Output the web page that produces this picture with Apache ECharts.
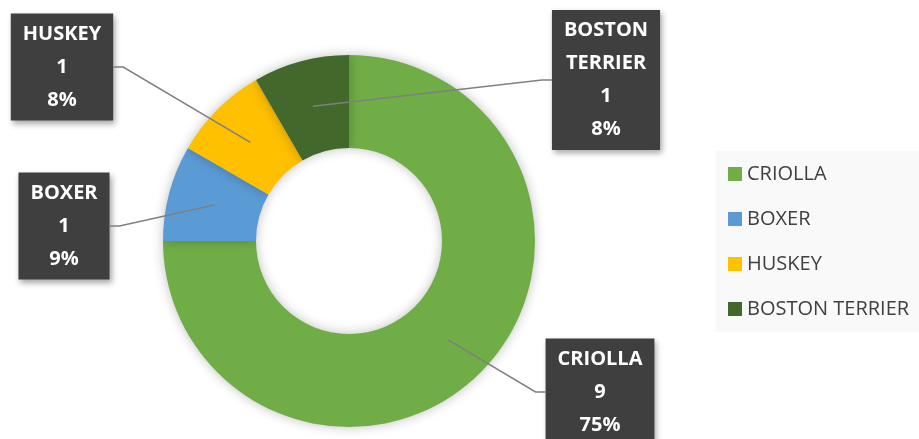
<!DOCTYPE html>
<html>
<head>
<meta charset="utf-8">
<script src="https://cdn.jsdelivr.net/npm/echarts@6/dist/echarts.min.js"></script>
<style>
  html, body { margin: 0; padding: 0; background: #fff; }
  #chart { width: 919px; height: 439px; }
</style>
</head>
<body>
<div id="chart"></div>
<script>
// datos del grafico
const breeds = ['CRIOLLA', 'BOXER', 'HUSKEY', 'BOSTON TERRIER'];
const counts = [9, 1, 1, 1];
const colors = ['#70AD47', '#5B9BD5', '#FFC000', '#43682B'];

// posicion de cada caja de etiqueta (centro)
const labelPos = [
  [600, 392],
  [64, 226],
  [62, 67],
  [606, 80]
];

const center = [349, 241];
const labelFont = 'bold 20px "Open Sans"';
const labelPadX = 12;

// ancho de la caja segun la linea mas larga
const measure = document.createElement('canvas').getContext('2d');
function boxWidth(name) {
  measure.font = labelFont;
  let w = 0;
  name.split(' ').forEach(function (s) {
    w = Math.max(w, measure.measureText(s).width);
  });
  return w + labelPadX * 2;
}

const chart = echarts.init(document.getElementById('chart'));

const option = {
  animation: false,
  color: colors,
  legend: {
    orient: 'vertical',
    left: 716,
    top: 151,
    width: 203,
    padding: [13, 12, 13, 12],
    backgroundColor: '#f9f9f9',
    itemGap: 25,
    itemWidth: 14,
    itemHeight: 14,
    icon: 'rect',
    data: breeds,
    textStyle: {
      fontFamily: 'Open Sans',
      fontSize: 20,
      lineHeight: 20,
      color: '#404040'
    }
  },
  series: [
    {
      type: 'pie',
      center: center,
      radius: [93, 186],
      startAngle: 90,
      clockwise: true,
      percentPrecision: 0,
      itemStyle: {
        shadowBlur: 12,
        shadowColor: 'rgba(0,0,0,0.25)'
      },
      label: {
        show: true,
        position: 'outside',
        formatter: function (p) {
          return p.name.replace(' ', '\n') + '\n' + p.value + '\n' + p.percent + '%';
        },
        color: '#fff',
        fontFamily: 'Open Sans',
        fontWeight: 'bold',
        fontSize: 20,
        lineHeight: 33,
        align: 'center',
        backgroundColor: '#3f3f3f',
        padding: [4, labelPadX, 4, labelPadX],
        shadowBlur: 6,
        shadowOffsetX: 2,
        shadowOffsetY: 3,
        shadowColor: 'rgba(0,0,0,0.35)'
      },
      // la linea propia queda invisible, se dibuja aparte
      labelLine: {
        show: true,
        length: 20,
        length2: 10,
        lineStyle: { color: '#7f7f7f', width: 1.5, opacity: 0 }
      },
      labelLayout: function (params) {
        const p = labelPos[params.dataIndex];
        return { x: p[0], y: p[1], align: 'center', verticalAlign: 'middle' };
      },
      emphasis: { disabled: true },
      data: breeds.map((b, i) => ({ name: b, value: counts[i] }))
    }
  ]
};

chart.setOption(option);

// lineas guia: salen del centro del anillo de cada sector hasta la caja
const pieData = chart.getModel().getSeriesByIndex(0).getData();
const zr = chart.getZr();
pieData.each(function (i) {
  const l = pieData.getItemLayout(i);
  const mid = (l.startAngle + l.endAngle) / 2;
  const r = (l.r + l.r0) / 2;
  const start = [l.cx + Math.cos(mid) * r, l.cy + Math.sin(mid) * r];
  const p = labelPos[i];
  const side = p[0] > l.cx ? -1 : 1;
  const boxEdge = p[0] + side * boxWidth(breeds[i]) / 2;
  zr.add(new echarts.graphic.Polyline({
    z: 10,
    silent: true,
    shape: { points: [start, [boxEdge + side * 10, p[1]], [boxEdge, p[1]]] },
    style: { stroke: '#7f7f7f', lineWidth: 1.5, fill: null }
  }));
});
</script>
</body>
</html>
